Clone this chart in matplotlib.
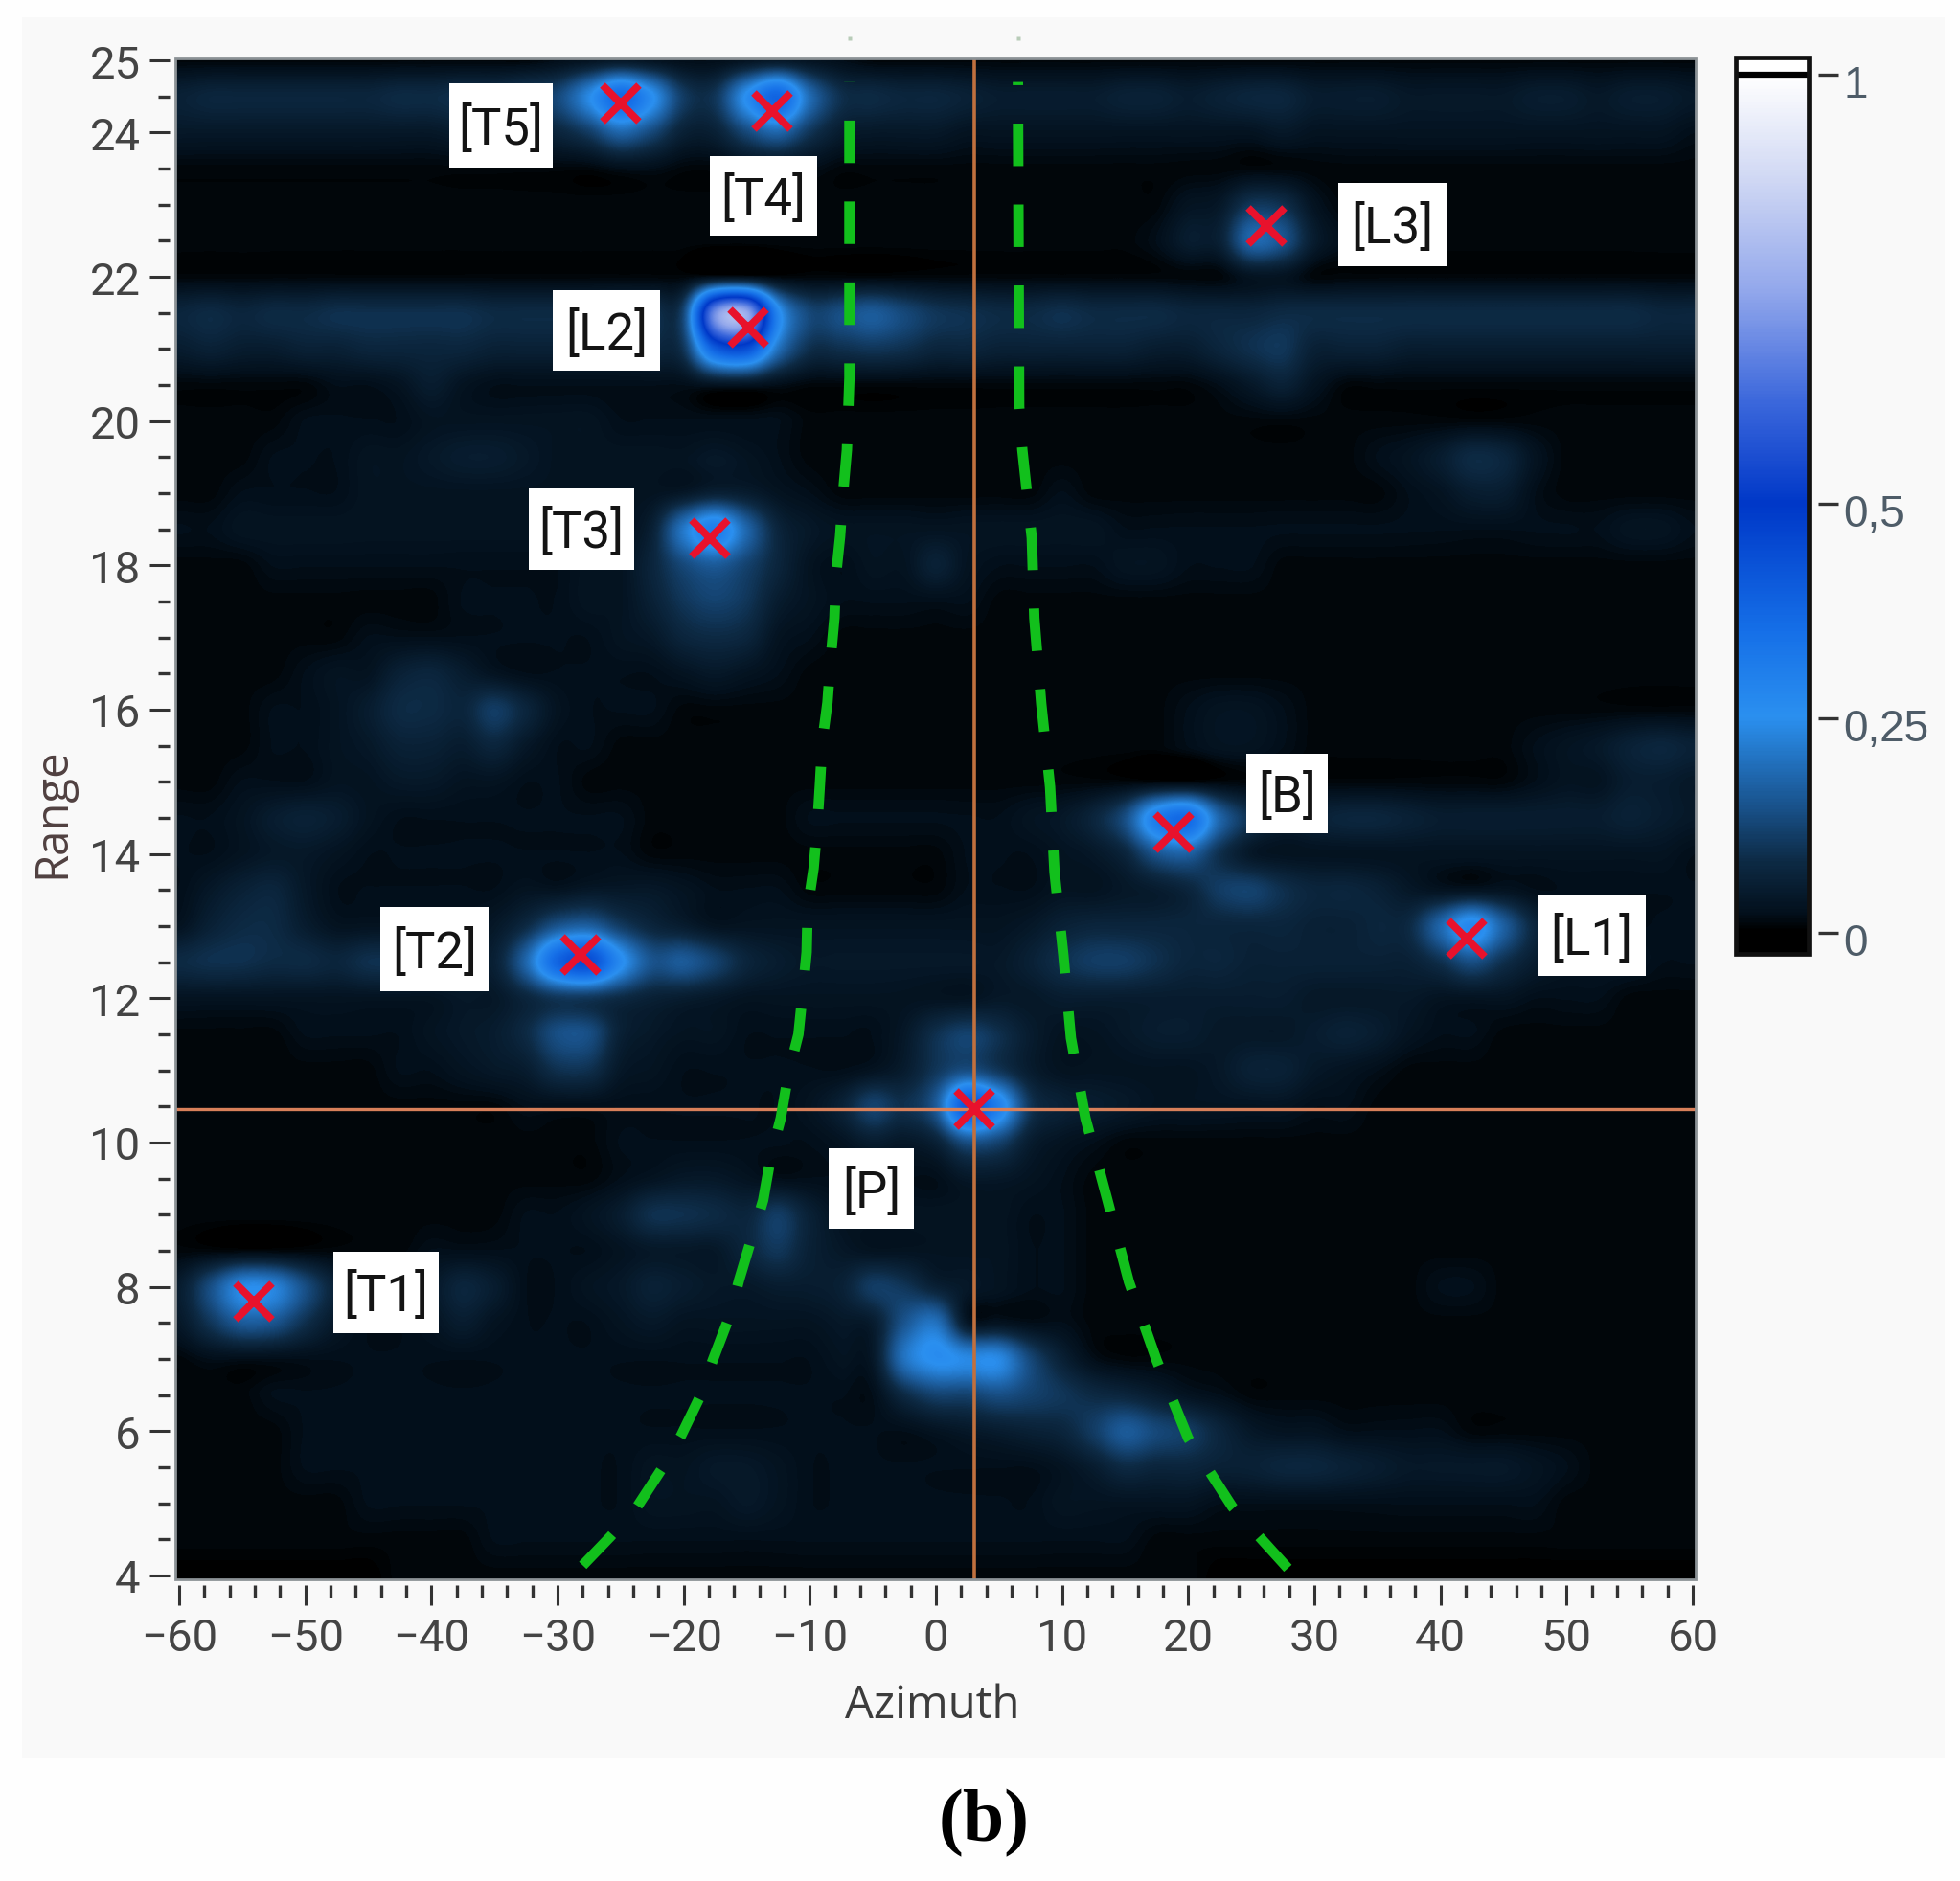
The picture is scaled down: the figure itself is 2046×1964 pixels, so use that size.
import numpy as np
import matplotlib
matplotlib.use("Agg")
import matplotlib.pyplot as plt
from matplotlib.colors import LinearSegmentedColormap
from matplotlib.patches import Rectangle
from matplotlib.transforms import Affine2D, ScaledTranslation
from matplotlib.ticker import MultipleLocator, FixedLocator

W, H = 2046, 1965

# Heat values x100, rows from range 25 down to 4 (step 0.5), columns azimuth -60..60 (step 2.5)
heat_az_step = 2.5
heat_range_step = 0.5
heat_rows = [
 [1,1,1,1,1,1,1,1,1,1, 1,1,2,3,4,3,2,2,3,4, 3,2,1,1,1,1,1,1,1,1, 1,1,1,1,1,1,1,1,1,1, 1,1,1,1,1,1,1,1,1],
 [6,7,7,7,7,7,7,8,8,9, 9,11,13,24,37,26,11,10,26,38, 19,9,8,7,7,6,5,5,5,5, 6,6,5,6,7,7,5,5,5,4, 4,4,4,5,5,4,5,5,4],
 [4,4,4,4,4,4,4,4,4,5, 5,6,7,11,18,13,6,6,13,18, 10,5,4,4,4,3,3,3,3,3, 3,3,3,3,3,4,3,3,3,3, 3,3,3,3,3,3,3,3,2],
 [1,1,1,1,1,1,1,1,1,1, 1,1,1,1,2,2,1,1,2,2, 2,1,1,1,1,1,1,1,1,1, 1,1,1,1,1,1,1,1,1,1, 1,1,1,1,1,1,1,1,1],
 [1,1,1,1,1,1,1,1,1,1, 1,1,1,1,1,1,1,1,1,1, 1,1,1,1,1,1,1,1,1,1, 1,1,3,4,10,9,3,1,1,1, 1,1,1,1,1,1,1,1,1],
 [1,1,1,1,1,1,1,1,1,1, 1,1,1,1,1,1,1,1,1,1, 1,1,1,1,1,1,1,1,1,1, 1,2,5,6,18,15,5,2,1,1, 1,1,1,1,1,1,1,1,1],
 [1,1,1,1,1,1,1,1,1,1, 1,1,1,1,1,1,1,2,2,1, 1,1,1,1,1,1,1,1,1,1, 1,1,1,1,3,3,1,1,1,1, 1,1,1,1,1,1,1,1,1],
 [7,8,7,8,8,9,9,9,9,9, 8,8,8,8,9,9,13,70,76,28, 13,14,16,13,10,9,8,8,9,8, 8,8,7,7,7,8,8,8,8,8, 8,8,8,8,8,8,8,7,7],
 [5,6,5,5,6,6,7,7,7,7, 6,6,6,6,6,7,10,40,44,20, 9,9,10,9,7,7,6,6,6,6, 6,5,5,7,9,10,6,6,6,5, 5,5,5,5,5,5,5,5,5],
 [1,1,1,1,1,2,2,3,5,3, 2,2,2,2,2,2,2,3,3,2, 1,1,1,1,1,1,1,1,1,1, 1,1,1,2,4,6,3,1,1,1, 1,1,1,1,1,1,1,1,1],
 [1,1,1,1,2,2,2,2,3,3, 3,3,3,3,2,2,2,2,2,2, 1,1,1,1,1,1,1,1,1,1, 1,1,1,1,1,1,1,1,1,1, 1,1,1,1,1,1,1,1,1],
 [1,1,1,2,2,2,3,3,4,5, 5,4,3,3,3,3,3,4,3,2, 1,1,1,1,1,1,1,1,1,1, 1,1,1,1,1,1,1,1,2,3, 5,8,7,3,1,1,1,1,1],
 [1,1,2,2,2,2,3,3,3,3, 3,3,3,3,3,3,4,6,5,3, 2,1,1,1,1,1,1,1,2,1, 1,1,1,1,1,1,1,1,1,2, 3,5,5,2,1,1,1,1,1],
 [2,2,3,3,3,3,3,3,3,3, 3,3,3,3,3,6,21,31,18,7, 4,3,3,3,3,3,3,3,3,3, 2,2,2,2,2,2,2,2,2,2, 2,2,2,2,2,2,3,3,2],
 [1,1,1,2,2,2,2,2,2,2, 2,2,2,3,3,7,13,16,12,7, 3,2,3,3,6,3,2,2,2,2, 3,3,2,2,2,1,1,1,1,1, 1,1,1,1,1,1,1,1,1],
 [1,1,1,1,1,1,1,1,1,2, 2,2,2,3,3,6,10,12,10,5, 3,2,2,2,2,2,1,1,1,1, 1,1,1,1,1,1,1,1,1,1, 1,1,1,1,1,1,1,1,1],
 [1,1,1,1,1,1,2,2,2,2, 2,2,2,2,3,4,7,8,7,3, 2,1,1,1,1,1,1,1,1,1, 1,1,1,1,1,1,1,1,1,1, 1,1,1,1,1,1,1,1,1],
 [1,1,1,1,2,3,3,6,7,5, 3,2,2,2,2,2,3,4,3,2, 1,1,1,1,1,1,1,1,1,1, 1,1,1,1,1,1,1,1,1,1, 1,1,1,1,1,1,1,1,1],
 [1,1,1,2,2,3,5,8,8,7, 11,7,3,2,2,2,1,1,1,1, 1,1,1,1,1,1,1,1,1,1, 1,1,2,3,3,2,1,1,1,1, 1,1,1,1,1,1,1,1,1],
 [1,1,1,2,2,3,4,6,6,5, 7,4,2,2,1,1,1,1,1,1, 1,1,1,1,1,1,1,1,1,1, 1,1,2,3,3,2,1,1,1,1, 1,1,1,2,3,4,6,7,6],
 [1,1,2,2,2,3,3,4,4,3, 3,2,2,1,1,1,1,1,1,1, 1,1,1,1,1,1,1,1,1,1, 1,1,1,1,1,1,1,1,1,1, 1,1,1,2,3,3,5,5,4],
 [2,2,3,5,6,5,3,2,2,2, 2,2,2,2,2,1,1,1,1,1, 2,2,2,2,2,2,2,3,4,7, 14,31,36,18,9,5,6,7,7,6, 5,5,5,5,5,5,6,5,4],
 [2,2,3,4,4,3,2,2,2,2, 2,2,2,2,2,1,1,1,1,1, 1,1,1,1,1,2,2,2,3,4, 7,15,17,9,4,3,3,3,3,3, 3,3,3,3,3,3,3,3,2],
 [2,4,6,7,4,2,2,2,2,2, 2,3,3,4,4,4,3,2,2,2, 1,1,1,1,1,2,2,2,3,3, 4,5,7,11,12,9,7,7,6,4, 3,3,3,2,2,2,2,2,2],
 [3,6,8,8,5,3,3,3,3,3, 4,8,15,17,11,7,5,3,3,3, 3,3,3,3,3,3,3,4,6,7, 7,7,7,7,7,7,6,6,7,8, 18,28,17,7,3,3,2,2,2],
 [8,9,9,8,8,7,9,9,8,7, 6,18,38,44,27,15,16,12,7,5, 4,4,4,4,4,4,4,6,9,11, 11,9,7,7,6,6,6,6,6,6, 9,14,9,5,3,3,3,2,2],
 [3,3,3,3,3,3,3,3,3,4, 4,7,10,10,8,6,5,4,3,3, 3,3,3,3,3,3,4,4,5,5, 5,5,5,5,5,5,4,4,4,4, 3,3,3,2,2,2,1,1,1],
 [1,1,1,1,2,2,2,2,3,4, 5,8,14,14,6,4,3,3,2,2, 2,2,2,4,9,12,9,5,3,3, 4,5,5,4,4,4,5,6,5,3, 2,2,1,1,1,1,1,1,1],
 [1,1,1,1,1,1,1,2,2,3, 4,5,9,9,4,3,2,2,2,2, 2,2,3,5,10,14,10,5,3,3, 3,3,3,4,6,6,4,3,2,1, 1,1,1,1,1,1,1,1,1],
 [1,1,1,1,1,1,1,1,1,1, 1,2,2,2,2,2,2,2,2,2, 3,6,12,9,16,42,30,10,6,5, 4,3,3,3,3,3,2,2,1,1, 1,1,1,1,1,1,1,1,1],
 [1,1,1,1,1,1,1,1,1,1, 1,1,1,1,2,2,2,2,2,2, 2,3,5,4,6,14,12,5,3,2, 1,1,1,1,1,1,1,1,1,1, 1,1,1,1,1,1,1,1,1],
 [1,1,1,1,1,1,1,1,1,1, 1,1,1,1,2,3,4,4,3,2, 2,2,2,2,2,4,4,3,2,1, 1,1,1,1,1,1,1,1,1,1, 1,1,1,1,1,1,1,1,1],
 [1,1,1,1,1,1,1,1,1,1, 1,2,2,3,5,9,9,8,7,11, 6,3,3,3,3,3,3,2,2,1, 1,1,1,1,1,1,1,1,1,1, 1,1,1,1,1,1,1,1,1],
 [1,1,1,1,1,1,1,1,2,2, 2,2,2,2,3,4,4,4,7,10, 6,4,3,3,3,3,3,2,2,1, 1,1,1,1,1,1,1,1,1,1, 1,1,1,1,1,1,1,1,1],
 [5,14,24,23,14,6,3,3,4,7, 5,2,2,3,4,6,5,4,4,5, 5,6,11,10,6,4,3,2,2,1, 1,1,1,1,1,1,1,1,1,1, 2,2,1,1,1,1,1,1,1],
 [4,10,16,15,9,4,2,2,3,5, 3,2,2,2,3,4,3,3,3,3, 3,4,5,15,20,4,3,2,2,1, 1,1,1,1,1,1,1,1,1,1, 1,1,1,1,1,1,1,1,1],
 [1,2,2,2,2,2,2,2,2,2, 2,2,2,2,2,2,2,2,2,2, 2,3,4,20,26,24,24,13,6,2, 1,1,1,1,1,1,1,1,1,1, 1,1,1,1,1,1,1,1,1],
 [1,1,1,2,2,2,2,2,2,2, 2,2,2,2,2,2,2,2,2,2, 2,2,2,8,12,12,14,12,10,8, 7,5,3,2,1,1,1,1,1,1, 1,1,1,1,1,1,1,1,1],
 [1,1,1,1,2,2,2,2,2,2, 2,2,2,2,2,2,2,2,2,2, 2,2,2,2,3,4,5,6,7,11, 16,13,11,7,4,3,3,2,2,2, 2,1,1,1,1,1,1,1,1],
 [1,1,1,1,2,2,2,2,2,2, 2,2,2,2,2,3,3,4,4,3, 2,2,2,2,2,2,2,2,3,5, 8,7,7,6,6,7,7,6,5,4, 4,4,4,3,2,1,1,1,1],
 [1,1,1,1,1,1,2,2,2,2, 2,2,2,2,2,3,3,3,4,3, 2,2,2,2,2,2,2,2,3,3, 3,3,3,2,2,2,2,2,2,2, 2,2,2,2,1,1,1,1,1],
 [1,1,1,1,1,1,1,1,1,1, 2,2,2,2,2,2,2,2,2,2, 2,2,2,2,2,2,2,2,2,2, 2,1,1,1,1,1,1,1,1,1, 1,1,1,1,1,1,1,1,1],
 [0,0,0,0,0,0,0,1,1,1, 1,1,1,1,1,1,1,1,1,1, 1,1,1,1,1,1,1,1,1,1, 1,1,1,0,0,0,0,0,0,0, 0,0,0,0,0,0,0,0,0],
]

# Detected targets
target_names = ["T5", "T4", "L2", "T3", "L3", "B", "L1", "T2", "T1", "P"]
target_az = [-25.0, -12.95, -14.9, -17.9, 26.2, 18.8, 42.05, -28.2, -54.1, 3.04]
target_range = [24.4, 24.3, 21.3, 18.37, 22.7, 14.3, 12.83, 12.6, 7.8, 10.47]

# Green boundary curves
left_curve_range = [4.14,4.54,4.95,5.46,5.94,6.48,6.98,7.6,8.1,8.68,9.2,9.83,10.34,10.95,11.5,12.1,12.64,13.25,13.8,14.4,14.96,15.57,16.1,16.7,17.27,17.9,18.4,19.0,19.6,20.2,20.6,21.2,22.4,23.56,24.7]
left_curve_az = [-28,-25.8,-23.7,-21.8,-20.2,-18.7,-17.7,-16.35,-15.6,-14.6,-13.7,-13.06,-12.3,-11.7,-10.9,-10.55,-10.25,-10.17,-9.7,-9.4,-9.2,-9.0,-8.6,-8.35,-8.05,-7.9,-7.6,-7.36,-7.06,-6.94,-6.86,-6.86,-6.86,-6.86,-6.86]
right_curve_range = [4.1,4.95,5.9,6.98,8.07,9.2,10.34,11.45,12.6,13.75,14.93,16.08,17.27,18.38,19.6,20.2,24.7]
right_curve_az = [27.9,23.5,20,17.5,15.3,13.6,11.85,10.7,10.1,9.4,9.05,8.35,7.8,7.6,6.85,6.6,6.5]

cursor_az = 3.04
cursor_range = 10.47

x_major = list(range(-60, 61, 10))
y_major = [4, 6, 8, 10, 12, 14, 16, 18, 20, 22, 24, 25]
cbar_ticks = [0, 0.25, 0.5, 1]
cbar_labels = ["0", "0,25", "0,5", "1"]

# colour stops of the scale
cmap_stops = [(0, "#000000"), (0.02, "#03101c"), (0.08, "#0d2a44"), (0.15, "#1a5590"), (0.25, "#2b90f0"),
              (0.35, "#1670e8"), (0.5, "#0038c8"), (0.62, "#3c68dc"), (0.75, "#93a8ec"), (0.88, "#d0d8f4"), (1, "#ffffff")]
cmap = LinearSegmentedColormap.from_list("radar", cmap_stops)

NARROW = ["Roboto", "DejaVu Sans"]
LABEL = ["Open Sans", "DejaVu Sans"]

fig = plt.figure(figsize=(W / 100, H / 100), dpi=100, facecolor="#fefefe")
px = Affine2D().scale(1 / W, -1 / H).translate(0, 1) + fig.transFigure

def ax_rect(l, t, r, b):
    return [l / W, 1 - b / H, (r - l) / W, (b - t) / H]

fig.patches.append(Rectangle((23, 19), 2007, 1818, transform=px, fc="#f9f9f9", ec="none", zorder=-5))

# plot axes: left 183, right 1770, top 62, bottom 1650; tick -60 at 187, 60 at 1767; 25 at 64, 4 at 1646
L, T, R, B = 183, 62, 1770, 1650
ax = fig.add_axes(ax_rect(L, T, R, B))

heat = np.array(heat_rows, dtype=float) / 100
nr, nc = heat.shape
ax.imshow(heat, cmap=cmap, vmin=0, vmax=1, aspect="auto", interpolation="catrom", interpolation_stage="data",
          extent=(-60 - heat_az_step / 2, -60 + (nc - 0.5) * heat_az_step,
                  25 - (nr - 0.5) * heat_range_step, 25 + heat_range_step / 2), origin="upper", zorder=1)
ax.set_xlim(-60 - (187 - L) / 13.17, 60 + (R - 1767) / 13.17)
ax.set_ylim(4 - (B - 1646) / 75.33, 25 + (64 - T) / 75.33)

ax.axvline(cursor_az, color="#c0703e", lw=2.6, zorder=2)
ax.axhline(cursor_range, color="#d8805a", lw=2.4, zorder=2)

green = "#12c01c"
for xs, ys in ((left_curve_az, left_curve_range), (right_curve_az, right_curve_range)):
    ax.plot(xs, ys, color=green, lw=7.8, dashes=(4.1, 3.7), dash_capstyle="butt", zorder=3)
for xv in (left_curve_az[-1], right_curve_az[-1]):
    ax.plot([xv], [25.3], marker="s", ms=3.5, mec="none", color="#b8ccb8", clip_on=False, zorder=3)

ax.plot(target_az, target_range, ls="none", marker="x", ms=27, mew=5.6, color="#e8122c", zorder=4)

# white label boxes (pixel bounds l, t, r, b)
label_boxes = {"T5": (469, 88, 577, 176), "T4": (741, 164, 853, 247), "L2": (577, 304, 689, 388),
               "T3": (552, 511, 662, 596), "L3": (1397, 192, 1510, 279), "B": (1301, 788, 1386, 871),
               "L1": (1605, 936, 1718, 1020), "T2": (397, 948, 510, 1036), "T1": (348, 1308, 458, 1393),
               "P": (865, 1200, 954, 1284)}
for name in target_names:
    l, t, r, b = label_boxes[name]
    ax.add_patch(Rectangle((l, t), r - l, b - t, transform=px, fc="#ffffff", ec="none", zorder=5, clip_on=False))
    ax.text((l + r) / 2, (t + b) / 2 + 4, f"[{name}]", transform=px, family=NARROW, fontsize=38, color="#141414",
            ha="center", va="center", zorder=6)

# ticks stand off the frame
for s in ax.spines.values():
    s.set_visible(False)
ax.spines["left"].set_position(("outward", 4.3))
ax.spines["bottom"].set_position(("outward", 4.3))
ax.add_patch(Rectangle((0, 0), 1, 1, transform=ax.transAxes, fc="none", ec="#8c9296", lw=2, zorder=7, clip_on=False))
ax.xaxis.set_major_locator(FixedLocator(x_major))
ax.xaxis.set_minor_locator(MultipleLocator(2))
ax.yaxis.set_major_locator(FixedLocator(y_major))
ax.yaxis.set_minor_locator(MultipleLocator(0.5))
ax.tick_params(axis="both", which="major", length=15, width=2.2, color="#333333", labelcolor="#444444", labelsize=34)
ax.tick_params(axis="x", which="major", pad=9)
ax.tick_params(axis="y", which="major", pad=7)
ax.tick_params(axis="both", which="minor", length=9, width=2.4, color="#333333")
ax.set_xticklabels([str(v).replace("-", "\u2212") for v in x_major], family=NARROW)
ax.set_yticklabels([str(v) for v in y_major], family=NARROW)

fig.text(973 / W, 1 - 1781 / H, "Azimuth", family=LABEL, fontsize=34, color="#3c3c3c", ha="center", va="center")
fig.text(55 / W, 1 - 849 / H, "Range", family=LABEL, fontsize=34, color="#504040", rotation=90, ha="center", va="center")
fig.text(1027 / W, 1 - 1904 / H, "(b)", family=["Liberation Serif", "DejaVu Serif"], weight="bold", fontsize=56,
         color="#000000", ha="center", va="center")

# colour scale: bar 1810-1890 x 59-999; value 0 at y=975, value 1 at y=79
cax = fig.add_axes(ax_rect(1812, 61, 1888, 997))
cv_lo, cv_hi = -0.0245, 1.02
grad = np.linspace(cv_hi, cv_lo, 600)[:, None]
cax.imshow(grad, cmap=cmap, vmin=0, vmax=1, aspect="auto", extent=(0, 1, cv_lo, cv_hi), origin="upper")
cax.set_xlim(0, 1)
cax.set_ylim(cv_lo, cv_hi)
cax.axhline(1, color="#000000", lw=4.5, zorder=3)
cax.set_xticks([])
for s in cax.spines.values():
    s.set_visible(False)
cax.add_patch(Rectangle((0, 0), 1, 1, transform=cax.transAxes, fc="none", ec="#111111", lw=3.4, zorder=4, clip_on=False))
cax.yaxis.tick_right()
cax.spines["right"].set_position(("outward", 7))
cax.set_yticks(cbar_ticks)
cax.set_yticklabels(cbar_labels, family=["Liberation Sans", "DejaVu Sans"], fontsize=33, color="#4e5c68")
cax.tick_params(axis="y", length=15, width=2.4, color="#333333", pad=4)
drop = ScaledTranslation(0, -6 / 100, fig.dpi_scale_trans)
for lab in cax.get_yticklabels():
    lab.set_transform(lab.get_transform() + drop)

fig.savefig("out.png", dpi=100, facecolor=fig.get_facecolor())
